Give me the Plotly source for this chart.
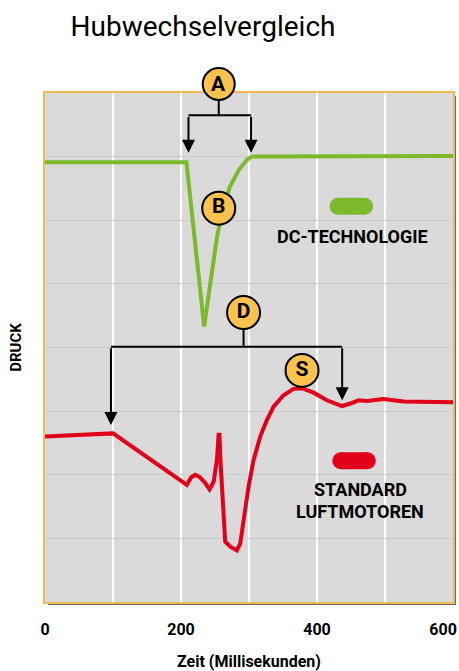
import plotly.graph_objects as go

# ---- data ----
time_dc = [0, 208, 234, 240, 245, 253, 262.5, 272, 285, 297, 304, 600]
druck_dc = [6.91, 6.91, 4.33, 4.75, 5.17, 5.74, 6.21, 6.53, 6.79, 6.95, 7.00, 7.01]

time_std = [0, 100, 208.6, 215, 221, 228, 235.6, 242, 248, 252.8, 255.3, 256.5, 258,
            265, 272.5, 282.3, 287.1, 291.9, 299.3, 306.7, 316.5, 326.3, 336.1, 350.8,
            365.5, 377.8, 395, 414.6, 436.8, 449, 461, 473.5, 498, 527.5, 600]
druck_std = [2.60, 2.65, 1.84, 1.96, 2.00, 1.96, 1.87, 1.77, 1.89, 2.23, 2.63, 2.63, 2.23,
             0.95, 0.87, 0.81, 0.92, 1.29, 1.81, 2.23, 2.60, 2.86, 3.07, 3.25,
             3.35, 3.36, 3.29, 3.17, 3.08, 3.12, 3.17, 3.16, 3.19, 3.15, 3.14]

x_grid = [0, 100, 200, 300, 400, 500, 600]
x_ticktext = ["0", "", "200", "", "400", "", "600\u00a0\u00a0\u00a0\u00a0\u00a0"]
y_grid = [1, 2, 3, 4, 5, 6, 7]

marker_labels = ["B", "D", "S"]
marker_x = [255.5, 292, 378]
marker_y = [6.19, 4.55, 3.64]
top_label = "A"
top_x = 255.5

GREEN = "#7DB92C"
RED = "#E2001A"
GOLD = "#FCC24E"
FONT = "Roboto"

W, H = 459, 671

fig = go.Figure()

fig.add_trace(go.Scatter(x=time_dc, y=druck_dc, mode="lines",
                         line=dict(color=GREEN, width=4), showlegend=False))
fig.add_trace(go.Scatter(x=time_std, y=druck_std, mode="lines",
                         line=dict(color=RED, width=4), showlegend=False))

# legend pills
fig.add_trace(go.Scatter(x=[431, 470], y=[6.22, 6.22], mode="lines+markers",
                         line=dict(color=GREEN, width=17),
                         marker=dict(color=GREEN, size=17, line=dict(width=0)),
                         showlegend=False))
fig.add_trace(go.Scatter(x=[435, 474], y=[2.22, 2.22], mode="lines+markers",
                         line=dict(color=RED, width=17),
                         marker=dict(color=RED, size=17, line=dict(width=0)),
                         showlegend=False))

# bracket lines
line_style = dict(color="black", width=2)
brackets = [
    (255.5, 7.95, 255.5, 7.65),
    (211, 7.65, 303, 7.65),
    (292, 4.30, 292, 4.01),
    (97, 4.01, 437, 4.01),
]
for x0, y0, x1, y1 in brackets:
    fig.add_shape(type="line", xref="x", yref="y", x0=x0, y0=y0, x1=x1, y1=y1,
                  line=line_style)

arrows = [(211, 7.65, 7.06), (303, 7.65, 7.06), (97, 4.01, 2.78), (437, 4.01, 3.17)]
for ax_, y_from, y_to in arrows:
    fig.add_annotation(x=ax_, y=y_to, ax=ax_, ay=y_from, xref="x", yref="y",
                       axref="x", ayref="y", showarrow=True, arrowhead=2,
                       arrowsize=1.3, arrowwidth=2, arrowcolor="black", text="",
                       standoff=0)

# circle markers inside the plot
fig.add_trace(go.Scatter(x=marker_x, y=marker_y, mode="markers+text",
                         text=[f"<b>{t}</b>" for t in marker_labels],
                         textposition="middle center",
                         textfont=dict(family=FONT, size=21, color="black"),
                         marker=dict(size=33, color=GOLD, line=dict(color="black", width=2)),
                         cliponaxis=False, showlegend=False))

# circle "A" sits across the top border of the plot
ax_paper = top_x / 600
ay_paper = 1 + 9 / 509
fig.add_shape(type="circle", xref="paper", yref="paper", xsizemode="pixel", ysizemode="pixel",
              xanchor=ax_paper, yanchor=ay_paper, x0=-16, x1=16, y0=-16, y1=16,
              fillcolor=GOLD, line=dict(color="black", width=2), layer="above")
fig.add_annotation(x=ax_paper, y=ay_paper, xref="paper", yref="paper", text=f"<b>{top_label}</b>",
                   xanchor="center", yanchor="middle",
                   showarrow=False, font=dict(family=FONT, size=21, color="black"))

# legend texts
fig.add_annotation(x=451.5, y=5.75, xref="x", yref="y", text="<b>DC-TECHNOLOGIE</b>",
                   showarrow=False, font=dict(family=FONT, size=18, color="black"))
fig.add_annotation(x=463.5, y=1.77, xref="x", yref="y", text="<b>STANDARD</b>",
                   showarrow=False, font=dict(family=FONT, size=18, color="black"))
fig.add_annotation(x=463.5, y=1.42, xref="x", yref="y", text="<b>LUFTMOTOREN</b>",
                   showarrow=False, font=dict(family=FONT, size=18, color="black"))

# shadow strips
sx = 3 / 408
sy = 3 / 509
fig.add_shape(type="rect", xref="paper", yref="paper", x0=1, x1=1 + sx, y0=-sy, y1=1 - sy,
              fillcolor="#6A6A6A", line=dict(width=0), layer="below")
fig.add_shape(type="rect", xref="paper", yref="paper", x0=sx, x1=1 + sx, y0=-sy, y1=0,
              fillcolor="#6A6A6A", line=dict(width=0), layer="below")

fig.update_layout(
    width=W, height=H,
    margin=dict(l=45, r=6, t=93, b=69),
    paper_bgcolor="white",
    plot_bgcolor="#DADADA",
    font=dict(family=FONT, color="black"),
    title=dict(text="Hubwechselvergleich", x=203 / W, xref="container", xanchor="center",
               y=1 - 26 / H, yref="container", yanchor="middle",
               font=dict(family=FONT, size=28, color="black")),
    xaxis=dict(range=[0, 600], tickvals=x_grid, ticktext=x_ticktext,
               showgrid=True, gridcolor="white", gridwidth=1.5, zeroline=False,
               ticks="", tickfont=dict(family=FONT, size=16, weight="bold"),
               ticklabelstandoff=12, ticklabeloverflow="allow", automargin=False,
               showline=True, mirror=True, linecolor="#F0B955", linewidth=1.5,
               title=dict(text="<b>Zeit (Millisekunden)</b>", standoff=18,
                          font=dict(family=FONT, size=16))),
    yaxis=dict(range=[0, 8], tickvals=y_grid, showticklabels=False,
               showgrid=True, gridcolor="#CBCBCB", gridwidth=1, zeroline=False,
               ticks="", automargin=False,
               showline=True, mirror=True, linecolor="#F0B955", linewidth=1.5,
               title=dict(text="<b>DRUCK</b>", standoff=18,
                          font=dict(family=FONT, size=15))),
)

fig.write_html(
    "out.html",
    config={"displayModeBar": False},
    post_script="document.body.style.margin='0';document.body.style.overflow='hidden';",
)
